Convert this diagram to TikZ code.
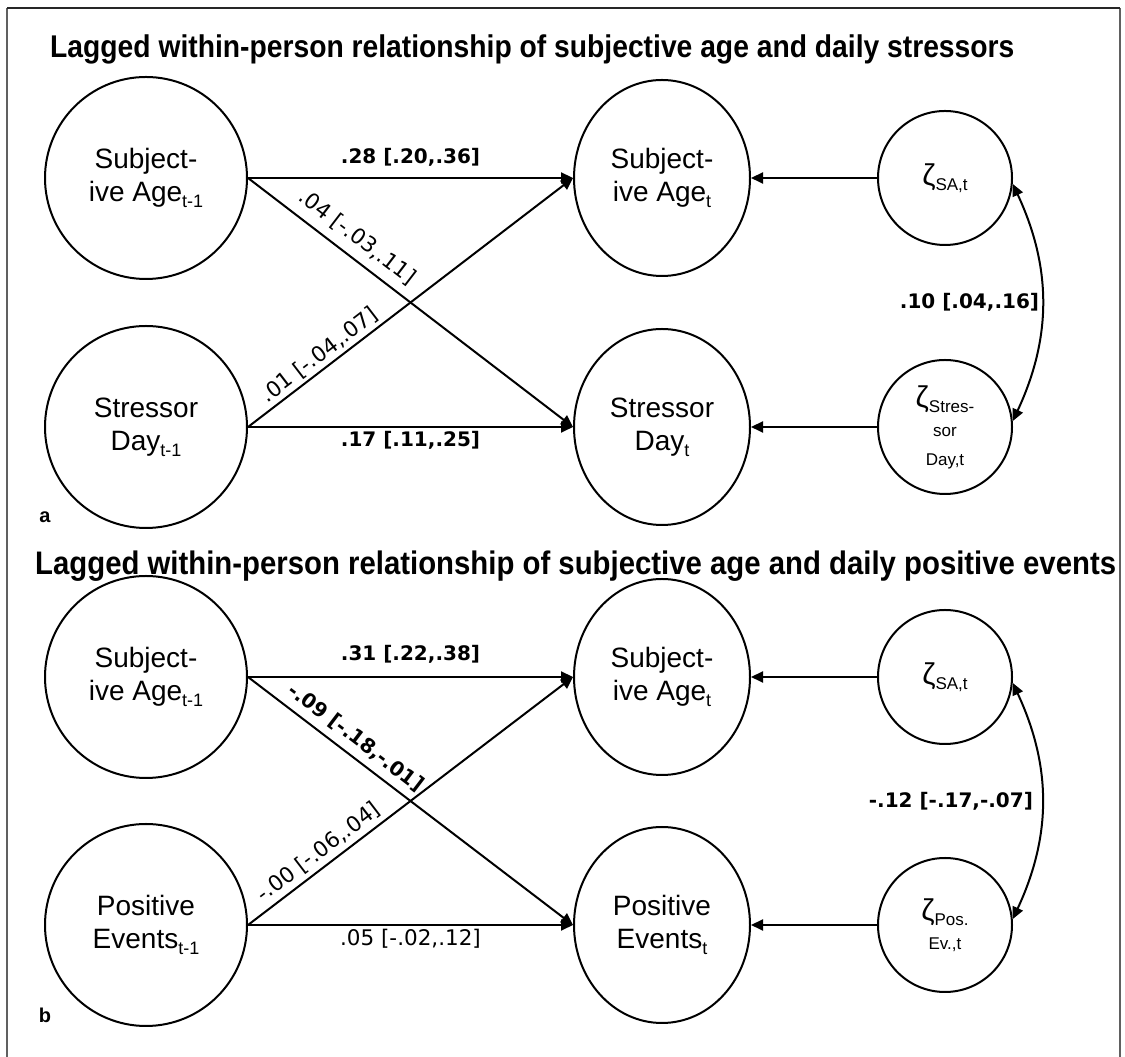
\documentclass[tikz,border=0pt]{standalone}
\usepackage{fontspec}
\setmainfont{Liberation Sans}
\newfontfamily\labfont{DejaVu Sans}
\newfontfamily\titlefont[FakeStretch=0.9]{Liberation Sans}
\usetikzlibrary{arrows.meta,shapes.geometric}
\newcommand{\lsub}[1]{\raisebox{-6pt}{\fontsize{18}{18}\selectfont #1}}
\newcommand{\zsub}[1]{\raisebox{-5pt}{\fontsize{17}{17}\selectfont #1}}
\newcommand{\zt}{{\fontsize{30}{30}\selectfont ζ}}
\begin{document}
\begin{tikzpicture}[x=1pt,y=1pt,
  big/.style={circle, draw, line width=2pt, minimum size=202pt, inner sep=0pt, align=center, font=\fontsize{28}{33}\selectfont},
  bigr/.style={ellipse, draw, line width=2pt, minimum width=176pt, minimum height=196pt, inner sep=0pt, align=center, font=\fontsize{28}{33}\selectfont},
  err/.style={circle, draw, line width=2pt, minimum size=134pt, inner sep=0pt, align=center, font=\fontsize{17}{29}\selectfont},
  arr/.style={line width=2pt, -{Triangle[length=12pt,width=11pt]}},
  cov/.style={line width=2pt, {Triangle[length=12pt,width=11pt]}-{Triangle[length=12pt,width=11pt]}},
  lb/.style={font=\labfont\bfseries\fontsize{20}{20}\selectfont},
  lr/.style={font=\labfont\fontsize{21.5}{21.5}\selectfont},
  ttl/.style={anchor=base west, inner sep=0pt},
  pl/.style={font=\bfseries\fontsize{20}{20}\selectfont}
]
\useasboundingbox (0,0) rectangle (1125,1057);
% frame
\draw[line width=1.5pt, gray!75!black] (7,0) -- (7,1049);
\draw[line width=1.5pt, gray!75!black] (1120,0) -- (1120,1049);
\draw[line width=1.5pt, black!85] (7,1049) -- (1120,1049);

% ---------- panel a ----------
\node[ttl, font=\titlefont\bfseries\fontsize{31.4}{32}\selectfont] (ta) at (50,999) {Lagged within-person relationship of subjective age and daily stressors};
\node[big] (sa1) at (146,879) {Subject-\\ive Age\lsub{t-1}};
\node[big] (sd1) at (146,630) {Stressor\\Day\lsub{t-1}};
\node[bigr] (sa2) at (662,879) {Subject-\\ive Age\lsub{t}};
\node[bigr] (sd2) at (662,630) {Stressor\\Day\lsub{t}};
\node[err] (za) at (945,879) {\zt\zsub{SA,t}};
\node[err] (zb) at (945,630) {\zt\zsub{Stres-}\\sor\\Day,t};

\draw[arr] (sa1.east) -- node[lb, above=7pt] (la1) {.28 [.20,.36]} (sa2.west);
\draw[arr] (sa1.east) -- node[lr, pos=0.3, sloped, above, inner sep=9pt] (la2) {.04 [-.03,.11]} (sd2.west);
\draw[arr] (sd1.east) -- node[lr, pos=0.245, sloped, above, inner sep=3pt] (la3) {.01 [-.04,.07]} (sa2.west);
\draw[arr] (sd1.east) -- node[lb, below] (la4) {.17 [.11,.25]} (sd2.west);
\draw[arr] (za.west) -- (sa2.east);
\draw[arr] (zb.west) -- (sd2.east);
\draw[cov] (za.-5) to[out=-65,in=65] node[lb, left, inner sep=2pt] (la5) {.10 [.04,.16]} (zb.5);
\node[pl] (pa) at (45,540) {a};

% ---------- panel b ----------
\node[ttl, font=\titlefont\bfseries\fontsize{32.6}{33}\selectfont] (tb) at (35,482) {Lagged within-person relationship of subjective age and daily positive events};
\node[big] (sb1) at (146,380) {Subject-\\ive Age\lsub{t-1}};
\node[big] (pe1) at (146,132) {Positive\\Events\lsub{t-1}};
\node[bigr] (sb2) at (662,380) {Subject-\\ive Age\lsub{t}};
\node[bigr] (pe2) at (662,132) {Positive\\Events\lsub{t}};
\node[err] (zc) at (945,380) {\zt\zsub{SA,t}};
\node[err] (zd) at (945,132) {\zt\zsub{Pos.}\\Ev.,t};

\draw[arr] (sb1.east) -- node[lb, above=9pt] (lb1) {.31 [.22,.38]} (sb2.west);
\draw[arr] (sb1.east) -- node[lb, pos=0.3, sloped, above, inner sep=7pt] (lb2) {-.09 [-.18,-.01]} (pe2.west);
\draw[arr] (pe1.east) -- node[lr, pos=0.245, sloped, above, inner sep=4.5pt] (lb3) {-.00 [-.06,.04]} (sb2.west);
\draw[arr] (pe1.east) -- node[lr, below] (lb4) {.05 [-.02,.12]} (pe2.west);
\draw[arr] (zc.west) -- (sb2.east);
\draw[arr] (zd.west) -- (pe2.east);
\draw[cov] (zc.-5) to[out=-65,in=65] node[lb, left, inner sep=8pt] (lb5) {-.12 [-.17,-.07]} (zd.5);
\node[pl] (pb) at (45,42) {b};
\end{tikzpicture}
\end{document}
